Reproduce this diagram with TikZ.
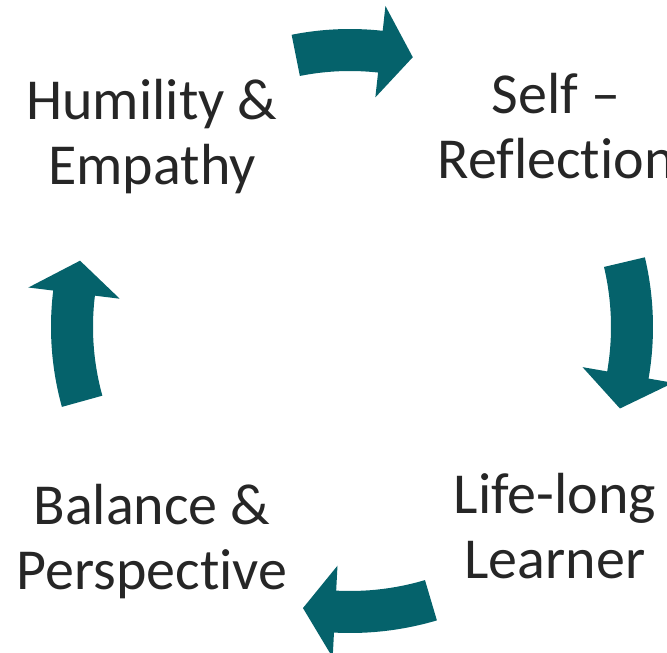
\documentclass[tikz,border=0pt]{standalone}
\usepackage{fontspec}
\setmainfont{Carlito}[Ligatures=NoCommon]
\usetikzlibrary{positioning}
\definecolor{zyklus}{RGB}{5,98,107}
\definecolor{schrift}{RGB}{38,38,38}

\begin{document}
\begin{tikzpicture}[x=1pt,y=1pt,begriff/.style={align=center,text=schrift,inner sep=0pt,anchor=base,font=\fontsize{58}{65}\selectfont},pfeil/.style={fill=zyklus,draw=none}]
\useasboundingbox (0,0) rectangle (667,653);

% Begriffe im Kreis, (Name) zum Wiederfinden; anchor=base sitzt auf der letzten Zeile
  \node[begriff] (hum) at (152,468) {Humility \&\\Empathy};
  \node[begriff] (self) at (556,474) {Self --\\Reflection};
  \node[begriff] (life) at (555,74) {Life-long\\Learner};
  \node[begriff] (bal) at (152,63) {Balance \&\\Perspective};
  \coordinate (mitte) at (350,326); % Mittelpunkt des Zyklus

% Pfeile: Schwanz/Kopfansatz/Spitze (Winkel) und Radius
  \foreach \a/\b/\t/\r in {101.3/83.7/76.9/277, 13.3/-9.8/-16.8/282, -73.5/-93/-99.5/285, 195.5/173/166.2/278}
    \fill[pfeil,shift={(mitte)}] ({\a}:{\r pt-21pt}) arc[start angle=\a,end angle=\b,radius=\r pt-21pt] -- ({\b}:{\r pt-46pt}) -- ({\t}:{\r pt}) -- ({\b}:{\r pt+46pt}) -- ({\b}:{\r pt+21pt}) arc[start angle=\b,end angle=\a,radius=\r pt+21pt] -- cycle;
\end{tikzpicture}
\end{document}
